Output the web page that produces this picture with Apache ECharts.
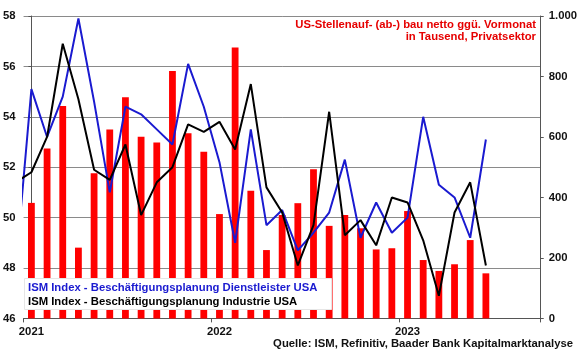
<!DOCTYPE html>
<html>
<head>
<meta charset="utf-8">
<script src="https://cdn.jsdelivr.net/npm/echarts@6/dist/echarts.min.js"></script>
<style>html,body{margin:0;padding:0;background:#fff;}#c{width:580px;height:358px;}</style>
</head>
<body>
<div id="c"></div>
<script>
// Monthly categories (Jan 2021 – Sep 2023)
const months = ['2021-01','2021-02','2021-03','2021-04','2021-05','2021-06','2021-07','2021-08','2021-09','2021-10','2021-11','2021-12',
  '2022-01','2022-02','2022-03','2022-04','2022-05','2022-06','2022-07','2022-08','2022-09','2022-10','2022-11','2022-12',
  '2023-01','2023-02','2023-03','2023-04','2023-05','2023-06','2023-07','2023-08','2023-09'];
// US private payroll change, thousands (Jan 2021 – Jun 2023)
const jobs = [382,562,702,234,480,625,731,601,582,818,612,551,
  345,896,422,226,342,381,493,306,342,298,228,232,
  355,193,157,179,259,149];
// Line series start one month before the axis (Dec 2020), so their first segment is clipped
const lineStartIndex = -1;
const dienstleister = [48.0,
  55.1,53.2,54.8,57.9,54.6,51.0,54.4,54.1,53.5,52.9,56.1,54.4,
  52.2,49.0,53.5,49.7,50.3,48.7,49.4,50.2,52.3,49.2,50.6,49.4,
  50.0,54.0,51.3,50.8,49.2,53.1];
const industrie = [51.4,
  51.8,53.2,56.9,54.7,51.9,51.5,52.9,50.1,51.4,52.0,53.7,53.4,
  53.8,52.7,55.3,51.2,50.2,48.1,49.7,54.2,49.3,49.9,48.9,50.8,
  50.6,49.1,46.9,50.2,51.4,48.1];
const leftMin = 46, leftMax = 58, leftStep = 2;
const rightMin = 0, rightMax = 1000, rightStep = 200;
const nameDienst = 'ISM Index - Beschäftigungsplanung Dienstleister USA';
const nameIndustrie = 'ISM Index - Beschäftigungsplanung Industrie USA';
const titleLine1 = 'US-Stellenauf- (ab-) bau netto ggü. Vormonat';
const titleLine2 = 'in Tausend, Privatsektor';
const sourceText = 'Quelle: ISM, Refinitiv, Baader Bank Kapitalmarktanalyse';

const FONT = '"Liberation Sans", Arial, sans-serif';
const FS = 11.3;
const chart = echarts.init(document.getElementById('c'), null, {renderer: 'canvas'});
const yearTick = (i) => i % 12 === 0;

chart.setOption({
  animation: false,
  backgroundColor: '#fff',
  grid: {left: 23.5, right: 38.5, top: 16, bottom: 39.6, containLabel: false},
  xAxis: [{
    type: 'category',
    data: months,
    boundaryGap: true,
    axisLine: {show: true, lineStyle: {color: '#555', width: 1}},
    axisTick: {show: true, interval: (i) => yearTick(i), length: 4, lineStyle: {color: '#555'}},
    axisLabel: {interval: (i) => yearTick(i), formatter: (v) => v.slice(0, 4),
      color: '#111', fontWeight: 'bold', fontSize: FS, fontFamily: FONT, margin: 8},
    splitLine: {show: false}
  }, {
    type: 'value', show: false, min: -0.5, max: months.length - 0.5
  }],
  yAxis: [{
    type: 'value', min: leftMin, max: leftMax, interval: leftStep, position: 'left',
    axisLine: {show: true, lineStyle: {color: '#555'}},
    axisTick: {show: true, length: 3, lineStyle: {color: '#555'}},
    axisLabel: {color: '#111', fontWeight: 'bold', fontSize: FS, fontFamily: FONT, margin: 8},
    splitLine: {show: true, lineStyle: {color: '#8a8a8a', width: 1}}
  }, {
    type: 'value', min: rightMin, max: rightMax, interval: rightStep, position: 'right',
    axisLine: {show: true, lineStyle: {color: '#555'}},
    axisTick: {show: true, length: 3, lineStyle: {color: '#555'}},
    axisLabel: {color: '#111', fontWeight: 'bold', fontSize: FS, fontFamily: FONT, margin: 8,
      formatter: (v) => String(v).replace(/\B(?=(\d{3})+(?!\d))/g, '.')},
    splitLine: {show: false}
  }],
  series: [{
    type: 'bar', name: 'Stellen', xAxisIndex: 0, yAxisIndex: 1,
    data: jobs, barWidth: 6.8, itemStyle: {color: '#ff0000'}, z: 1
  }, {
    type: 'line', name: nameDienst, xAxisIndex: 1, yAxisIndex: 0,
    data: dienstleister.map((v, k) => [k + lineStartIndex, v]),
    symbol: 'none', clip: true, lineStyle: {color: '#1a1ad0', width: 2}, z: 3
  }, {
    type: 'line', name: nameIndustrie, xAxisIndex: 1, yAxisIndex: 0,
    data: industrie.map((v, k) => [k + lineStartIndex, v]),
    symbol: 'none', clip: true, lineStyle: {color: '#000', width: 2}, z: 4
  }],
  graphic: [
    {type: 'rect', left: 24, top: 278, z: 100, shape: {width: 307, height: 31},
      style: {fill: '#fff', stroke: '#e6e6e6', lineWidth: 1}},
    {type: 'text', left: 28, top: 282, z: 101,
      style: {text: nameDienst, fill: '#1a1ad0', font: 'bold ' + FS + 'px ' + FONT}},
    {type: 'text', left: 28, top: 296.5, z: 101,
      style: {text: nameIndustrie, fill: '#000', font: 'bold ' + FS + 'px ' + FONT}},
    {type: 'text', right: 44, top: 19, z: 101,
      style: {text: titleLine1, fill: '#e60000', font: 'bold ' + FS + 'px ' + FONT}},
    {type: 'text', right: 44, top: 31.5, z: 101,
      style: {text: titleLine2, fill: '#e60000', font: 'bold ' + FS + 'px ' + FONT}},
    {type: 'text', right: 7, top: 338, z: 101,
      style: {text: sourceText, fill: '#111', font: 'bold ' + FS + 'px ' + FONT}}
  ]
});
</script>
</body>
</html>
